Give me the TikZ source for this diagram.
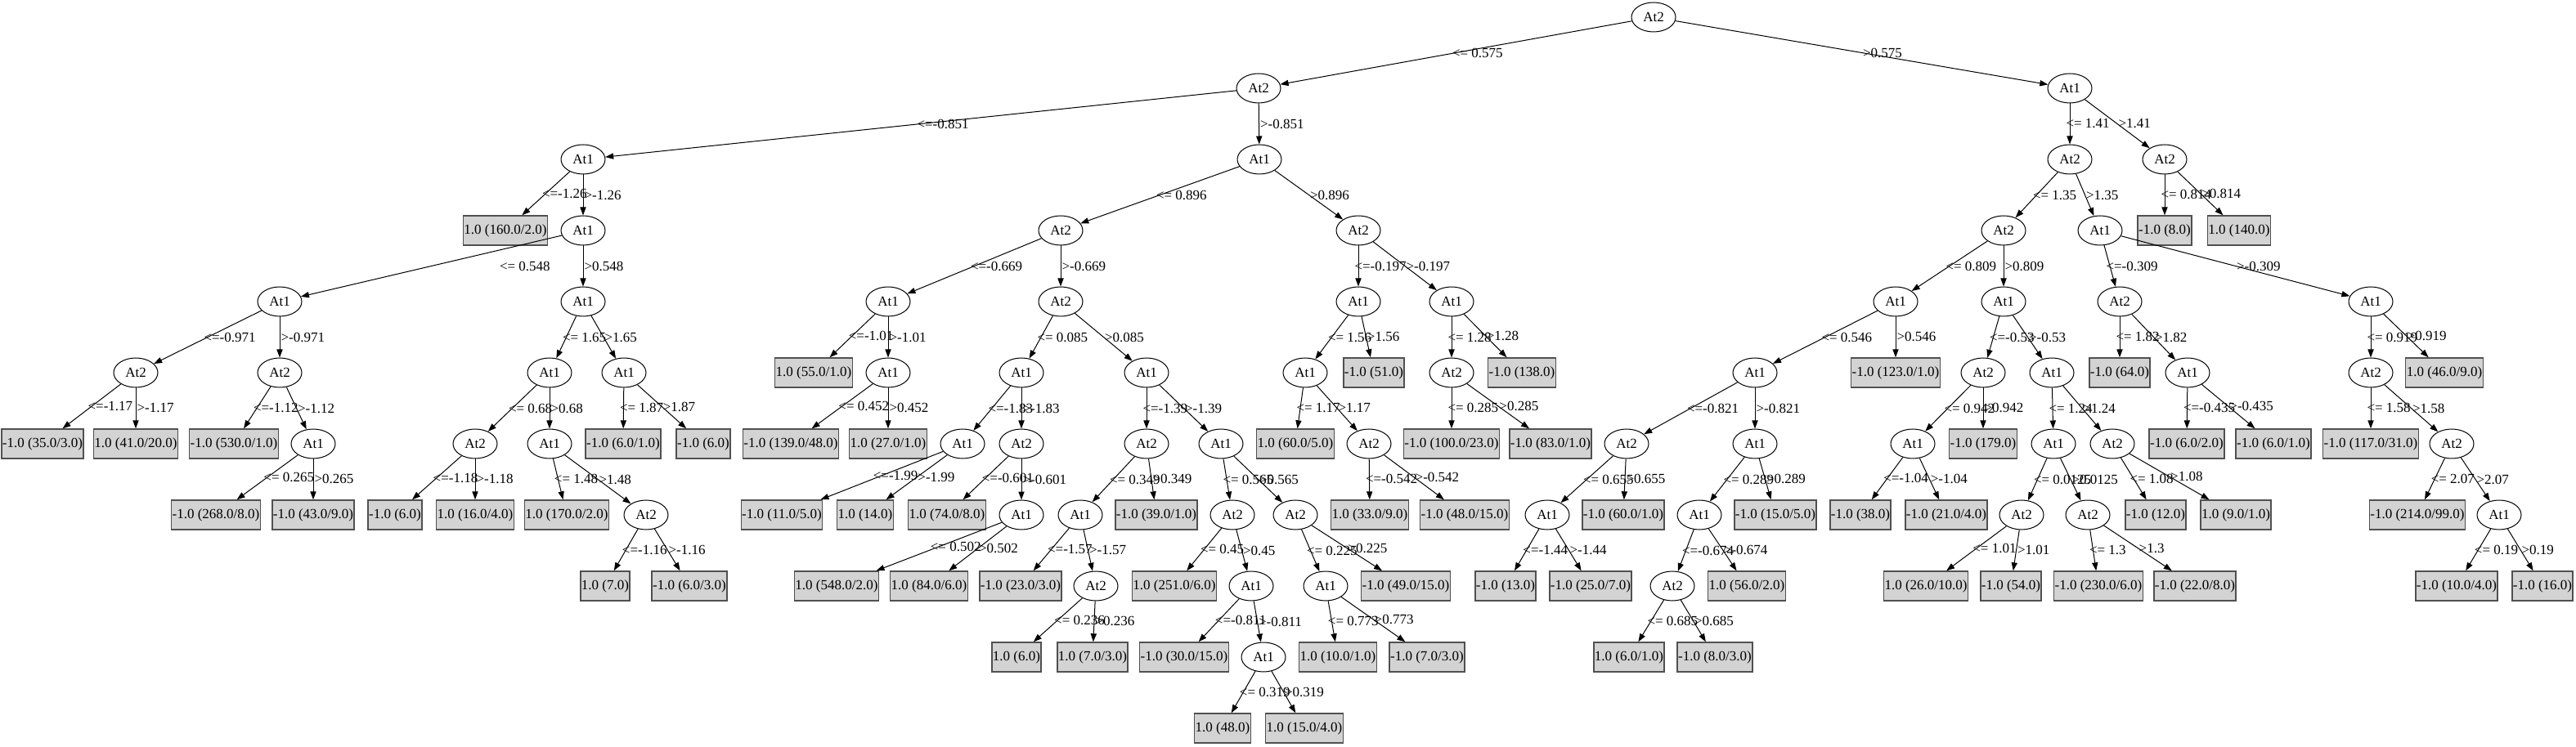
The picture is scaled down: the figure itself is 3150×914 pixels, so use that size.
\documentclass[tikz,border=0pt]{standalone}
\usepackage{fontspec}
\setmainfont{Liberation Serif}
\usetikzlibrary{arrows.meta,shapes.geometric}
\definecolor{leafgray}{HTML}{D3D3D3}
\definecolor{leafline}{HTML}{505050}

\begin{document}
\begin{tikzpicture}[x=0.5pt,y=-0.5pt,
    font=\fontsize{8.5}{9}\selectfont,
    test/.style={ellipse,draw,line width=0.5pt,minimum width=27pt,minimum height=18pt,inner sep=0pt},
    leaf/.style={rectangle,draw=leafline,fill=leafgray,line width=0.7pt,minimum height=18pt,inner xsep=0.5pt,inner ysep=0pt},
    branch/.style={-{Triangle[length=5pt,width=3.6pt]},line width=0.5pt},
    gtlbl/.style={midway,anchor=west,inner sep=0.5pt},
    lelbl/.style={gtlbl,xshift=-3pt}]
    \useasboundingbox (0,0) rectangle (3150,914);

    \node[test] (t) at (2022,21) {At2};
    \node[test] (tl) at (1539,108) {At2};
    \node[test] (tr) at (2531,108) {At1};

    \node[test] (tll) at (713,195) {At1};
    \node[leaf] (tlll) at (618,282) {1.0 (160.0/2.0)};
    \node[test] (tllr) at (713,282) {At1};
    \node[test] (tllrl) at (342,369) {At1};
    \node[test] (tllrll) at (166,456) {At2};
    \node[leaf] (tllrlll) at (52,543) {-1.0 (35.0/3.0)};
    \node[leaf] (tllrllr) at (166,543) {1.0 (41.0/20.0)};
    \node[test] (tllrlr) at (342,456) {At2};
    \node[leaf] (tllrlrl) at (286,543) {-1.0 (530.0/1.0)};
    \node[test] (tllrlrr) at (383,543) {At1};
    \node[leaf] (tllrlrrl) at (264,630) {-1.0 (268.0/8.0)};
    \node[leaf] (tllrlrrr) at (383,630) {-1.0 (43.0/9.0)};
    \node[test] (tllrr) at (713,369) {At1};
    \node[test] (tllrrl) at (672,456) {At1};
    \node[test] (tllrrll) at (581,543) {At2};
    \node[leaf] (tllrrlll) at (483,630) {-1.0 (6.0)};
    \node[leaf] (tllrrllr) at (581,630) {1.0 (16.0/4.0)};
    \node[test] (tllrrlr) at (672,543) {At1};
    \node[leaf] (tllrrlrl) at (693,630) {1.0 (170.0/2.0)};
    \node[test] (tllrrlrr) at (790,630) {At2};
    \node[leaf] (tllrrlrrl) at (740,717) {1.0 (7.0)};
    \node[leaf] (tllrrlrrr) at (843,717) {-1.0 (6.0/3.0)};
    \node[test] (tllrrr) at (763,456) {At1};
    \node[leaf] (tllrrrl) at (762,543) {-1.0 (6.0/1.0)};
    \node[leaf] (tllrrrr) at (860,543) {-1.0 (6.0)};

    \node[test] (tlr) at (1540,195) {At1};
    \node[test] (tlrl) at (1297,282) {At2};
    \node[test] (tlrll) at (1086,369) {At1};
    \node[leaf] (tlrlll) at (995,456) {1.0 (55.0/1.0)};
    \node[test] (tlrllr) at (1086,456) {At1};
    \node[leaf] (tlrllrl) at (967,543) {-1.0 (139.0/48.0)};
    \node[leaf] (tlrllrr) at (1086,543) {1.0 (27.0/1.0)};
    \node[test] (tlrlr) at (1297,369) {At2};
    \node[test] (tlrlrl) at (1249,456) {At1};
    \node[test] (tlrlrll) at (1177,543) {At1};
    \node[leaf] (tlrlrlll) at (956,630) {-1.0 (11.0/5.0)};
    \node[leaf] (tlrlrllr) at (1058,630) {1.0 (14.0)};
    \node[test] (tlrlrlr) at (1249,543) {At2};
    \node[leaf] (tlrlrlrl) at (1158,630) {1.0 (74.0/8.0)};
    \node[test] (tlrlrlrr) at (1249,630) {At1};
    \node[leaf] (tlrlrlrrl) at (1023,717) {1.0 (548.0/2.0)};
    \node[leaf] (tlrlrlrrr) at (1136,717) {1.0 (84.0/6.0)};
    \node[test] (tlrlrr) at (1402,456) {At1};
    \node[test] (tlrlrrl) at (1402,543) {At2};
    \node[test] (tlrlrrll) at (1321,630) {At1};
    \node[leaf] (tlrlrrlll) at (1248,717) {-1.0 (23.0/3.0)};
    \node[test] (tlrlrrllr) at (1340,717) {At2};
    \node[leaf] (tlrlrrllrl) at (1243,804) {1.0 (6.0)};
    \node[leaf] (tlrlrrllrr) at (1336,804) {1.0 (7.0/3.0)};
    \node[leaf] (tlrlrrlr) at (1414,630) {-1.0 (39.0/1.0)};
    \node[test] (tlrlrrr) at (1493,543) {At1};
    \node[test] (tlrlrrrl) at (1507,630) {At2};
    \node[leaf] (tlrlrrrll) at (1436,717) {1.0 (251.0/6.0)};
    \node[test] (tlrlrrrlr) at (1530,717) {At1};
    \node[leaf] (tlrlrrrlrl) at (1448,804) {-1.0 (30.0/15.0)};
    \node[test] (tlrlrrrlrr) at (1545,804) {At1};
    \node[leaf] (tlrlrrrlrrl) at (1495,891) {1.0 (48.0)};
    \node[leaf] (tlrlrrrlrrr) at (1595,891) {1.0 (15.0/4.0)};
    \node[test] (tlrlrrrr) at (1584,630) {At2};
    \node[test] (tlrlrrrrl) at (1621,717) {At1};
    \node[leaf] (tlrlrrrrll) at (1636,804) {1.0 (10.0/1.0)};
    \node[leaf] (tlrlrrrrlr) at (1745,804) {-1.0 (7.0/3.0)};
    \node[leaf] (tlrlrrrrr) at (1719,717) {-1.0 (49.0/15.0)};
    \node[test] (tlrr) at (1661,282) {At2};
    \node[test] (tlrrl) at (1661,369) {At1};
    \node[test] (tlrrll) at (1596,456) {At1};
    \node[leaf] (tlrrlll) at (1584,543) {1.0 (60.0/5.0)};
    \node[test] (tlrrllr) at (1674,543) {At2};
    \node[leaf] (tlrrllrl) at (1675,630) {1.0 (33.0/9.0)};
    \node[leaf] (tlrrllrr) at (1791,630) {-1.0 (48.0/15.0)};
    \node[leaf] (tlrrlr) at (1680,456) {-1.0 (51.0)};
    \node[test] (tlrrr) at (1775,369) {At1};
    \node[test] (tlrrrl) at (1775,456) {At2};
    \node[leaf] (tlrrrll) at (1775,543) {-1.0 (100.0/23.0)};
    \node[leaf] (tlrrrlr) at (1896,543) {-1.0 (83.0/1.0)};
    \node[leaf] (tlrrrr) at (1861,456) {-1.0 (138.0)};

    \node[test] (trl) at (2531,195) {At2};
    \node[test] (trll) at (2450,282) {At2};
    \node[test] (trlll) at (2318,369) {At1};
    \node[test] (trllll) at (2146,456) {At1};
    \node[test] (trlllll) at (1989,543) {At2};
    \node[test] (trllllll) at (1892,630) {At1};
    \node[leaf] (trlllllll) at (1841,717) {-1.0 (13.0)};
    \node[leaf] (trllllllr) at (1945,717) {-1.0 (25.0/7.0)};
    \node[leaf] (trlllllr) at (1985,630) {-1.0 (60.0/1.0)};
    \node[test] (trllllr) at (2146,543) {At1};
    \node[test] (trllllrl) at (2078,630) {At1};
    \node[test] (trllllrll) at (2045,717) {At2};
    \node[leaf] (trllllrlll) at (1992,804) {1.0 (6.0/1.0)};
    \node[leaf] (trllllrllr) at (2097,804) {-1.0 (8.0/3.0)};
    \node[leaf] (trllllrlr) at (2136,717) {1.0 (56.0/2.0)};
    \node[leaf] (trllllrr) at (2171,630) {-1.0 (15.0/5.0)};
    \node[leaf] (trlllr) at (2318,456) {-1.0 (123.0/1.0)};
    \node[test] (trllr) at (2450,369) {At1};
    \node[test] (trllrl) at (2425,456) {At2};
    \node[test] (trllrll) at (2339,543) {At1};
    \node[leaf] (trllrlll) at (2275,630) {-1.0 (38.0)};
    \node[leaf] (trllrllr) at (2380,630) {-1.0 (21.0/4.0)};
    \node[leaf] (trllrlr) at (2425,543) {-1.0 (179.0)};
    \node[test] (trllrr) at (2509,456) {At1};
    \node[test] (trllrrl) at (2511,543) {At1};
    \node[test] (trllrrll) at (2472,630) {At2};
    \node[leaf] (trllrrlll) at (2355,717) {1.0 (26.0/10.0)};
    \node[leaf] (trllrrllr) at (2459,717) {-1.0 (54.0)};
    \node[test] (trllrrlr) at (2553,630) {At2};
    \node[leaf] (trllrrlrl) at (2566,717) {-1.0 (230.0/6.0)};
    \node[leaf] (trllrrlrr) at (2684,717) {-1.0 (22.0/8.0)};
    \node[test] (trllrrr) at (2583,543) {At2};
    \node[leaf] (trllrrrl) at (2636,630) {-1.0 (12.0)};
    \node[leaf] (trllrrrr) at (2734,630) {1.0 (9.0/1.0)};
    \node[test] (trlr) at (2568,282) {At1};
    \node[test] (trlrl) at (2592,369) {At2};
    \node[leaf] (trlrll) at (2592,456) {-1.0 (64.0)};
    \node[test] (trlrlr) at (2675,456) {At1};
    \node[leaf] (trlrlrl) at (2674,543) {-1.0 (6.0/2.0)};
    \node[leaf] (trlrlrr) at (2780,543) {-1.0 (6.0/1.0)};
    \node[test] (trlrr) at (2899,369) {At1};
    \node[test] (trlrrl) at (2899,456) {At2};
    \node[leaf] (trlrrll) at (2899,543) {-1.0 (117.0/31.0)};
    \node[test] (trlrrlr) at (2998,543) {At2};
    \node[leaf] (trlrrlrl) at (2956,630) {-1.0 (214.0/99.0)};
    \node[test] (trlrrlrr) at (3056,630) {At1};
    \node[leaf] (trlrrlrrl) at (3004,717) {-1.0 (10.0/4.0)};
    \node[leaf] (trlrrlrrr) at (3109,717) {-1.0 (16.0)};
    \node[leaf] (trlrrr) at (2989,456) {1.0 (46.0/9.0)};
    \node[test] (trr) at (2647,195) {At2};
    \node[leaf] (trrl) at (2647,282) {-1.0 (8.0)};
    \node[leaf] (trrr) at (2738,282) {1.0 (140.0)};

    \draw[branch] (t) -- node[lelbl]{<= 0.575} (tl);
    \draw[branch] (t) -- node[gtlbl]{>0.575} (tr);

    \draw[branch] (tl) -- node[lelbl]{<=-0.851} (tll);
    \draw[branch] (tl) -- node[gtlbl]{>-0.851} (tlr);
    \draw[branch] (tll) -- node[lelbl]{<=-1.26} (tlll);
    \draw[branch] (tll) -- node[gtlbl]{>-1.26} (tllr);
    \draw[branch] (tllr) -- node[lelbl,xshift=44pt]{<= 0.548} (tllrl);
    \draw[branch] (tllr) -- node[gtlbl]{>0.548} (tllrr);
    \draw[branch] (tllrl) -- node[lelbl]{<=-0.971} (tllrll);
    \draw[branch] (tllrl) -- node[gtlbl]{>-0.971} (tllrlr);
    \draw[branch] (tllrll) -- node[lelbl]{<=-1.17} (tllrlll);
    \draw[branch] (tllrll) -- node[gtlbl]{>-1.17} (tllrllr);
    \draw[branch] (tllrlr) -- node[lelbl]{<=-1.12} (tllrlrl);
    \draw[branch] (tllrlr) -- node[gtlbl]{>-1.12} (tllrlrr);
    \draw[branch] (tllrlrr) -- node[lelbl]{<= 0.265} (tllrlrrl);
    \draw[branch] (tllrlrr) -- node[gtlbl]{>0.265} (tllrlrrr);
    \draw[branch] (tllrr) -- node[lelbl]{<= 1.65} (tllrrl);
    \draw[branch] (tllrr) -- node[gtlbl]{>1.65} (tllrrr);
    \draw[branch] (tllrrl) -- node[lelbl]{<= 0.68} (tllrrll);
    \draw[branch] (tllrrl) -- node[gtlbl]{>0.68} (tllrrlr);
    \draw[branch] (tllrrll) -- node[lelbl]{<=-1.18} (tllrrlll);
    \draw[branch] (tllrrll) -- node[gtlbl]{>-1.18} (tllrrllr);
    \draw[branch] (tllrrlr) -- node[lelbl]{<= 1.48} (tllrrlrl);
    \draw[branch] (tllrrlr) -- node[gtlbl]{>1.48} (tllrrlrr);
    \draw[branch] (tllrrlrr) -- node[lelbl]{<=-1.16} (tllrrlrrl);
    \draw[branch] (tllrrlrr) -- node[gtlbl]{>-1.16} (tllrrlrrr);
    \draw[branch] (tllrrr) -- node[lelbl]{<= 1.87} (tllrrrl);
    \draw[branch] (tllrrr) -- node[gtlbl]{>1.87} (tllrrrr);

    \draw[branch] (tlr) -- node[lelbl]{<= 0.896} (tlrl);
    \draw[branch] (tlr) -- node[gtlbl]{>0.896} (tlrr);
    \draw[branch] (tlrl) -- node[lelbl]{<=-0.669} (tlrll);
    \draw[branch] (tlrl) -- node[gtlbl]{>-0.669} (tlrlr);
    \draw[branch] (tlrll) -- node[lelbl]{<=-1.01} (tlrlll);
    \draw[branch] (tlrll) -- node[gtlbl]{>-1.01} (tlrllr);
    \draw[branch] (tlrllr) -- node[lelbl]{<= 0.452} (tlrllrl);
    \draw[branch] (tlrllr) -- node[gtlbl]{>0.452} (tlrllrr);
    \draw[branch] (tlrlr) -- node[lelbl]{<= 0.085} (tlrlrl);
    \draw[branch] (tlrlr) -- node[gtlbl]{>0.085} (tlrlrr);
    \draw[branch] (tlrlrl) -- node[lelbl]{<=-1.83} (tlrlrll);
    \draw[branch] (tlrlrl) -- node[gtlbl]{>-1.83} (tlrlrlr);
    \draw[branch] (tlrlrll) -- node[lelbl,xshift=-3pt]{<=-1.99} (tlrlrlll);
    \draw[branch] (tlrlrll) -- node[gtlbl]{>-1.99} (tlrlrllr);
    \draw[branch] (tlrlrlr) -- node[lelbl]{<=-0.601} (tlrlrlrl);
    \draw[branch] (tlrlrlr) -- node[gtlbl]{>-0.601} (tlrlrlrr);
    \draw[branch] (tlrlrlrr) -- node[lelbl,xshift=-3pt]{<= 0.502} (tlrlrlrrl);
    \draw[branch] (tlrlrlrr) -- node[gtlbl]{>0.502} (tlrlrlrrr);
    \draw[branch] (tlrlrr) -- node[lelbl]{<=-1.39} (tlrlrrl);
    \draw[branch] (tlrlrr) -- node[gtlbl]{>-1.39} (tlrlrrr);
    \draw[branch] (tlrlrrl) -- node[lelbl]{<= 0.349} (tlrlrrll);
    \draw[branch] (tlrlrrl) -- node[gtlbl]{>0.349} (tlrlrrlr);
    \draw[branch] (tlrlrrll) -- node[lelbl]{<=-1.57} (tlrlrrlll);
    \draw[branch] (tlrlrrll) -- node[gtlbl]{>-1.57} (tlrlrrllr);
    \draw[branch] (tlrlrrllr) -- node[lelbl]{<= 0.236} (tlrlrrllrl);
    \draw[branch] (tlrlrrllr) -- node[gtlbl]{>0.236} (tlrlrrllrr);
    \draw[branch] (tlrlrrr) -- node[lelbl]{<= 0.565} (tlrlrrrl);
    \draw[branch] (tlrlrrr) -- node[gtlbl]{>0.565} (tlrlrrrr);
    \draw[branch] (tlrlrrrl) -- node[lelbl]{<= 0.45} (tlrlrrrll);
    \draw[branch] (tlrlrrrl) -- node[gtlbl]{>0.45} (tlrlrrrlr);
    \draw[branch] (tlrlrrrlr) -- node[lelbl]{<=-0.811} (tlrlrrrlrl);
    \draw[branch] (tlrlrrrlr) -- node[gtlbl]{>-0.811} (tlrlrrrlrr);
    \draw[branch] (tlrlrrrlrr) -- node[lelbl]{<= 0.319} (tlrlrrrlrrl);
    \draw[branch] (tlrlrrrlrr) -- node[gtlbl]{>0.319} (tlrlrrrlrrr);
    \draw[branch] (tlrlrrrr) -- node[lelbl]{<= 0.225} (tlrlrrrrl);
    \draw[branch] (tlrlrrrr) -- node[gtlbl]{>0.225} (tlrlrrrrr);
    \draw[branch] (tlrlrrrrl) -- node[lelbl]{<= 0.773} (tlrlrrrrll);
    \draw[branch] (tlrlrrrrl) -- node[gtlbl]{>0.773} (tlrlrrrrlr);
    \draw[branch] (tlrr) -- node[lelbl]{<=-0.197} (tlrrl);
    \draw[branch] (tlrr) -- node[gtlbl]{>-0.197} (tlrrr);
    \draw[branch] (tlrrl) -- node[lelbl]{<= 1.56} (tlrrll);
    \draw[branch] (tlrrl) -- node[gtlbl]{>1.56} (tlrrlr);
    \draw[branch] (tlrrll) -- node[lelbl]{<= 1.17} (tlrrlll);
    \draw[branch] (tlrrll) -- node[gtlbl]{>1.17} (tlrrllr);
    \draw[branch] (tlrrllr) -- node[lelbl]{<=-0.542} (tlrrllrl);
    \draw[branch] (tlrrllr) -- node[gtlbl]{>-0.542} (tlrrllrr);
    \draw[branch] (tlrrr) -- node[lelbl]{<= 1.28} (tlrrrl);
    \draw[branch] (tlrrr) -- node[gtlbl]{>1.28} (tlrrrr);
    \draw[branch] (tlrrrl) -- node[lelbl]{<= 0.285} (tlrrrll);
    \draw[branch] (tlrrrl) -- node[gtlbl]{>0.285} (tlrrrlr);

    \draw[branch] (tr) -- node[lelbl]{<= 1.41} (trl);
    \draw[branch] (tr) -- node[gtlbl]{>1.41} (trr);
    \draw[branch] (trl) -- node[lelbl]{<= 1.35} (trll);
    \draw[branch] (trl) -- node[gtlbl]{>1.35} (trlr);
    \draw[branch] (trll) -- node[lelbl]{<= 0.809} (trlll);
    \draw[branch] (trll) -- node[gtlbl]{>0.809} (trllr);
    \draw[branch] (trlll) -- node[lelbl]{<= 0.546} (trllll);
    \draw[branch] (trlll) -- node[gtlbl]{>0.546} (trlllr);
    \draw[branch] (trllll) -- node[lelbl]{<=-0.821} (trlllll);
    \draw[branch] (trllll) -- node[gtlbl]{>-0.821} (trllllr);
    \draw[branch] (trlllll) -- node[lelbl]{<= 0.655} (trllllll);
    \draw[branch] (trlllll) -- node[gtlbl]{>0.655} (trlllllr);
    \draw[branch] (trllllll) -- node[lelbl]{<=-1.44} (trlllllll);
    \draw[branch] (trllllll) -- node[gtlbl]{>-1.44} (trllllllr);
    \draw[branch] (trllllr) -- node[lelbl]{<= 0.289} (trllllrl);
    \draw[branch] (trllllr) -- node[gtlbl]{>0.289} (trllllrr);
    \draw[branch] (trllllrl) -- node[lelbl]{<=-0.674} (trllllrll);
    \draw[branch] (trllllrl) -- node[gtlbl]{>-0.674} (trllllrlr);
    \draw[branch] (trllllrll) -- node[lelbl]{<= 0.685} (trllllrlll);
    \draw[branch] (trllllrll) -- node[gtlbl]{>0.685} (trllllrllr);
    \draw[branch] (trllr) -- node[lelbl]{<=-0.53} (trllrl);
    \draw[branch] (trllr) -- node[gtlbl]{>-0.53} (trllrr);
    \draw[branch] (trllrl) -- node[lelbl]{<= 0.942} (trllrll);
    \draw[branch] (trllrl) -- node[gtlbl]{>0.942} (trllrlr);
    \draw[branch] (trllrll) -- node[lelbl]{<=-1.04} (trllrlll);
    \draw[branch] (trllrll) -- node[gtlbl]{>-1.04} (trllrllr);
    \draw[branch] (trllrr) -- node[lelbl]{<= 1.24} (trllrrl);
    \draw[branch] (trllrr) -- node[gtlbl]{>1.24} (trllrrr);
    \draw[branch] (trllrrl) -- node[lelbl]{<= 0.0125} (trllrrll);
    \draw[branch] (trllrrl) -- node[gtlbl]{>0.0125} (trllrrlr);
    \draw[branch] (trllrrll) -- node[lelbl]{<= 1.01} (trllrrlll);
    \draw[branch] (trllrrll) -- node[gtlbl]{>1.01} (trllrrllr);
    \draw[branch] (trllrrlr) -- node[lelbl]{<= 1.3} (trllrrlrl);
    \draw[branch] (trllrrlr) -- node[gtlbl]{>1.3} (trllrrlrr);
    \draw[branch] (trllrrr) -- node[lelbl]{<= 1.08} (trllrrrl);
    \draw[branch] (trllrrr) -- node[gtlbl]{>1.08} (trllrrrr);
    \draw[branch] (trlr) -- node[lelbl]{<=-0.309} (trlrl);
    \draw[branch] (trlr) -- node[gtlbl]{>-0.309} (trlrr);
    \draw[branch] (trlrl) -- node[lelbl]{<= 1.82} (trlrll);
    \draw[branch] (trlrl) -- node[gtlbl]{>1.82} (trlrlr);
    \draw[branch] (trlrlr) -- node[lelbl]{<=-0.435} (trlrlrl);
    \draw[branch] (trlrlr) -- node[gtlbl]{>-0.435} (trlrlrr);
    \draw[branch] (trlrr) -- node[lelbl]{<= 0.919} (trlrrl);
    \draw[branch] (trlrr) -- node[gtlbl]{>0.919} (trlrrr);
    \draw[branch] (trlrrl) -- node[lelbl]{<= 1.58} (trlrrll);
    \draw[branch] (trlrrl) -- node[gtlbl]{>1.58} (trlrrlr);
    \draw[branch] (trlrrlr) -- node[lelbl]{<= 2.07} (trlrrlrl);
    \draw[branch] (trlrrlr) -- node[gtlbl]{>2.07} (trlrrlrr);
    \draw[branch] (trlrrlrr) -- node[lelbl]{<= 0.19} (trlrrlrrl);
    \draw[branch] (trlrrlrr) -- node[gtlbl]{>0.19} (trlrrlrrr);
    \draw[branch] (trr) -- node[lelbl]{<= 0.814} (trrl);
    \draw[branch] (trr) -- node[gtlbl]{>0.814} (trrr);
\end{tikzpicture}
\end{document}
